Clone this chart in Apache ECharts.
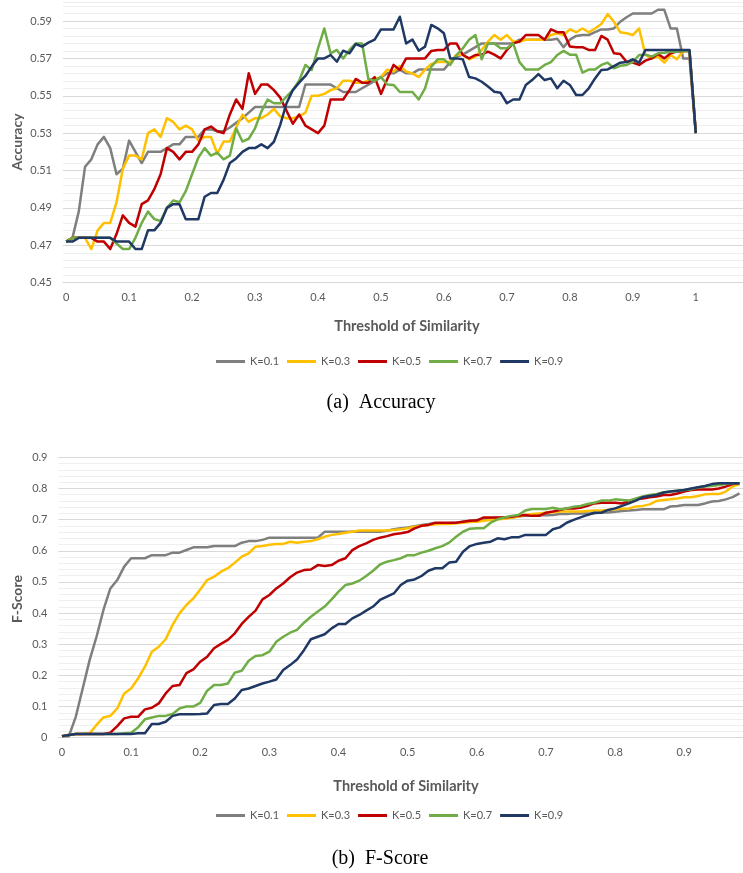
<!DOCTYPE html>
<html>
<head>
<meta charset="utf-8">
<script src="https://cdn.jsdelivr.net/npm/echarts@6/dist/echarts.min.js"></script>
<style>
html,body{margin:0;padding:0;background:#fff;}
#chart{width:743px;height:873px;}
</style>
</head>
<body>
<div id="chart"></div>
<script>
// ---------- categories (threshold of similarity) ----------
const accThresholds = Array.from({length: 108}, (_, i) => (i / 100).toFixed(2)); // 0 .. 1.07 (axis extends past 1)
const fThresholds = Array.from({length: 99}, (_, i) => (i / 100).toFixed(2));    // 0 .. 0.98

const seriesNames = ['K=0.1', 'K=0.3', 'K=0.5', 'K=0.7', 'K=0.9'];

// ---------- (a) Accuracy, thresholds 0 .. 1.00 ----------
const acc01 = [
  0.472,0.474,0.488,0.512,0.516,0.524,0.528,0.522,0.508,0.511,
  0.526,0.520,0.514,0.520,0.520,0.520,0.522,0.524,0.524,0.528,
  0.528,0.528,0.532,0.532,0.531,0.531,0.533,0.5355,0.538,0.541,
  0.544,0.544,0.544,0.544,0.544,0.544,0.544,0.544,0.556,0.556,
  0.556,0.556,0.556,0.554,0.552,0.552,0.552,0.554,0.556,0.558,
  0.560,0.562,0.562,0.564,0.562,0.562,0.564,0.564,0.564,0.564,
  0.564,0.568,0.571,0.572,0.574,0.576,0.578,0.578,0.578,0.578,
  0.578,0.578,0.580,0.580,0.580,0.580,0.580,0.580,0.5805,0.576,
  0.580,0.582,0.5825,0.5825,0.584,0.5855,0.5855,0.586,0.5896,0.592,
  0.594,0.594,0.594,0.594,0.596,0.596,0.586,0.586,0.570,0.570,
  0.530
];
const acc03 = [
  0.472,0.474,0.474,0.474,0.468,0.478,0.482,0.482,0.493,0.511,
  0.518,0.518,0.516,0.530,0.532,0.528,0.538,0.536,0.532,0.534,
  0.532,0.526,0.528,0.528,0.519,0.5255,0.5255,0.533,0.540,0.536,
  0.538,0.538,0.540,0.543,0.539,0.538,0.538,0.539,0.541,0.550,
  0.550,0.551,0.553,0.554,0.558,0.558,0.557,0.557,0.558,0.559,
  0.560,0.564,0.563,0.566,0.563,0.562,0.560,0.564,0.567,0.568,
  0.568,0.568,0.572,0.572,0.5695,0.571,0.5745,0.579,0.5825,0.580,
  0.5825,0.579,0.579,0.580,0.580,0.580,0.580,0.5825,0.5834,0.5825,
  0.5855,0.584,0.586,0.584,0.586,0.5884,0.5937,0.5896,0.584,0.5834,
  0.5825,0.586,0.5718,0.570,0.571,0.5677,0.5718,0.5695,0.574,0.574,
  0.530
];
const acc05 = [
  0.472,0.474,0.474,0.474,0.474,0.472,0.472,0.468,0.476,0.486,
  0.482,0.480,0.492,0.494,0.500,0.508,0.522,0.520,0.516,0.520,
  0.520,0.524,0.532,0.5335,0.531,0.530,0.540,0.548,0.543,0.562,
  0.551,0.556,0.556,0.553,0.549,0.542,0.535,0.540,0.534,0.532,
  0.530,0.534,0.548,0.548,0.548,0.553,0.559,0.557,0.557,0.560,
  0.551,0.559,0.5665,0.5638,0.570,0.570,0.570,0.570,0.574,0.5745,
  0.5745,0.578,0.578,0.5718,0.570,0.5718,0.572,0.5736,0.572,0.570,
  0.5745,0.578,0.579,0.5825,0.5825,0.5825,0.580,0.5855,0.584,0.584,
  0.5763,0.576,0.576,0.5745,0.5745,0.582,0.580,0.5727,0.5723,0.5682,
  0.5677,0.5665,0.5688,0.570,0.5723,0.570,0.5727,0.5736,0.574,0.574,
  0.530
];
const acc07 = [
  0.472,0.474,0.474,0.474,0.474,0.474,0.474,0.474,0.471,0.468,
  0.468,0.474,0.482,0.488,0.484,0.483,0.490,0.494,0.493,0.499,
  0.508,0.517,0.522,0.518,0.5196,0.516,0.518,0.5326,0.5255,0.527,
  0.5326,0.5415,0.548,0.546,0.546,0.5495,0.553,0.558,0.5665,0.5638,
  0.5754,0.586,0.5727,0.5745,0.570,0.5745,0.578,0.578,0.559,0.558,
  0.560,0.556,0.5558,0.552,0.552,0.552,0.548,0.554,0.5656,0.5695,
  0.5695,0.5665,0.5718,0.5754,0.580,0.5825,0.5695,0.578,0.578,0.5754,
  0.5754,0.578,0.568,0.564,0.564,0.564,0.5665,0.568,0.5718,0.574,
  0.572,0.572,0.5624,0.564,0.564,0.5665,0.5677,0.5647,0.566,0.5665,
  0.568,0.5718,0.572,0.571,0.5727,0.573,0.5736,0.5736,0.574,0.574,
  0.530
];
const acc09 = [
  0.472,0.472,0.474,0.474,0.474,0.474,0.474,0.474,0.472,0.472,
  0.472,0.468,0.468,0.478,0.478,0.482,0.490,0.492,0.492,0.484,
  0.484,0.484,0.496,0.498,0.498,0.505,0.514,0.5165,0.520,0.522,
  0.522,0.524,0.522,0.5254,0.5344,0.546,0.553,0.557,0.5606,0.5656,
  0.570,0.570,0.5718,0.5682,0.5741,0.5727,0.5777,0.5763,0.5784,0.580,
  0.5855,0.5855,0.5855,0.5923,0.578,0.580,0.5741,0.5763,0.5879,0.5861,
  0.5834,0.570,0.570,0.5695,0.560,0.5593,0.5575,0.5549,0.5522,0.5516,
  0.546,0.548,0.548,0.5558,0.5584,0.5616,0.5584,0.5593,0.554,0.558,
  0.5558,0.5504,0.5504,0.554,0.5593,0.5638,0.5641,0.5659,0.5677,0.568,
  0.5695,0.5677,0.5745,0.5745,0.5745,0.5745,0.5745,0.5745,0.5745,0.5745,
  0.530
];

// ---------- (b) F-Score, thresholds 0 .. 0.98 ----------
const f01 = [
  0.005,0.005,0.067,0.158,0.249,0.324,0.41,0.479,0.506,0.549,
  0.576,0.576,0.576,0.586,0.586,0.586,0.594,0.594,0.6025,0.611,
  0.611,0.611,0.615,0.615,0.615,0.615,0.626,0.631,0.631,0.635,
  0.642,0.642,0.642,0.642,0.642,0.642,0.642,0.642,0.661,0.661,
  0.661,0.661,0.661,0.661,0.661,0.661,0.661,0.664,0.669,0.672,
  0.675,0.679,0.683,0.686,0.688,0.688,0.688,0.69,0.693,0.696,
  0.699,0.701,0.704,0.706,0.707,0.707,0.71,0.712,0.712,0.714,
  0.714,0.715,0.718,0.718,0.72,0.72,0.72,0.72,0.723,0.723,
  0.7256,0.728,0.729,0.731,0.733,0.733,0.733,0.733,0.742,0.744,
  0.747,0.747,0.747,0.752,0.758,0.76,0.765,0.772,0.784
];
const f03 = [
  0.005,0.009,0.012,0.012,0.014,0.041,0.065,0.07,0.094,0.142,
  0.158,0.19,0.228,0.276,0.292,0.316,0.362,0.399,0.426,0.447,
  0.476,0.506,0.517,0.533,0.544,0.562,0.581,0.592,0.613,0.615,
  0.619,0.622,0.622,0.629,0.626,0.629,0.631,0.637,0.645,0.651,
  0.654,0.658,0.661,0.665,0.665,0.665,0.665,0.665,0.667,0.669,
  0.672,0.677,0.68,0.683,0.685,0.686,0.686,0.688,0.69,0.692,
  0.693,0.696,0.699,0.701,0.703,0.706,0.71,0.715,0.718,0.72,
  0.722,0.724,0.726,0.726,0.726,0.726,0.728,0.729,0.729,0.731,
  0.733,0.735,0.736,0.742,0.744,0.749,0.76,0.763,0.765,0.768,
  0.772,0.772,0.776,0.781,0.782,0.782,0.79,0.806,0.814
];
const f05 = [
  0.005,0.009,0.012,0.012,0.012,0.012,0.012,0.016,0.037,0.062,
  0.067,0.067,0.091,0.096,0.11,0.142,0.166,0.169,0.207,0.219,
  0.244,0.26,0.287,0.301,0.314,0.335,0.365,0.388,0.408,0.444,
  0.458,0.479,0.495,0.515,0.53,0.538,0.54,0.554,0.551,0.554,
  0.568,0.576,0.602,0.615,0.624,0.635,0.642,0.647,0.653,0.656,
  0.66,0.672,0.68,0.683,0.69,0.69,0.69,0.69,0.693,0.696,
  0.697,0.707,0.707,0.707,0.707,0.709,0.712,0.715,0.712,0.712,
  0.722,0.726,0.731,0.736,0.736,0.738,0.744,0.752,0.754,0.754,
  0.754,0.752,0.758,0.765,0.768,0.772,0.774,0.779,0.779,0.784,
  0.79,0.795,0.797,0.797,0.797,0.8,0.806,0.814,0.817
];
const f07 = [
  0.005,0.009,0.012,0.012,0.012,0.012,0.012,0.012,0.012,0.014,
  0.016,0.033,0.059,0.065,0.07,0.07,0.076,0.094,0.1,0.1,
  0.112,0.151,0.169,0.169,0.174,0.209,0.215,0.247,0.262,0.265,
  0.276,0.308,0.324,0.337,0.346,0.369,0.388,0.405,0.421,0.444,
  0.469,0.49,0.495,0.504,0.519,0.536,0.556,0.565,0.57,0.576,
  0.586,0.586,0.594,0.6,0.608,0.615,0.626,0.645,0.661,0.671,
  0.672,0.672,0.69,0.701,0.707,0.712,0.715,0.729,0.734,0.734,
  0.734,0.738,0.733,0.736,0.741,0.744,0.75,0.754,0.761,0.761,
  0.765,0.763,0.761,0.768,0.774,0.779,0.782,0.787,0.79,0.793,
  0.795,0.797,0.803,0.806,0.808,0.811,0.814,0.817,0.817
];
const f09 = [
  0.005,0.009,0.012,0.012,0.012,0.012,0.012,0.012,0.012,0.012,
  0.012,0.014,0.014,0.044,0.044,0.051,0.07,0.075,0.075,0.075,
  0.076,0.078,0.105,0.108,0.108,0.126,0.153,0.158,0.166,0.174,
  0.18,0.187,0.217,0.233,0.251,0.281,0.316,0.324,0.332,0.351,
  0.365,0.365,0.383,0.394,0.408,0.421,0.442,0.453,0.463,0.49,
  0.504,0.508,0.519,0.536,0.544,0.544,0.562,0.565,0.597,0.615,
  0.622,0.626,0.629,0.64,0.637,0.643,0.643,0.651,0.651,0.651,
  0.651,0.669,0.675,0.69,0.699,0.707,0.715,0.722,0.722,0.731,
  0.736,0.744,0.752,0.761,0.772,0.776,0.779,0.787,0.79,0.793,
  0.795,0.8,0.804,0.808,0.814,0.817,0.817,0.817,0.817
];

// ---------- styling ----------
const colors = ['#7F7F7F', '#FFC000', '#C00000', '#70AD47', '#1F3864'];
const FONT = 'Lato';
const TXT = '#595959';
const MAJOR = '#D9D9D9';
const MINOR = '#EFEFEF';

const accSeries = [acc01, acc03, acc05, acc07, acc09];
const fSeries = [f01, f03, f05, f07, f09];

function xAxisFor(gridIndex, cats) {
  return {
    gridIndex: gridIndex, type: 'category', data: cats, boundaryGap: true,
    axisTick: {show: false},
    axisLine: {lineStyle: {color: MAJOR, width: 1}},
    axisLabel: {interval: 9, color: TXT, fontSize: 11, fontFamily: FONT, margin: 9,
      formatter: v => String(parseFloat(v))},
    splitLine: {show: false}
  };
}
function yAxisFor(gridIndex, min, max, minorStep, majorStep, fmt) {
  return {
    gridIndex: gridIndex, type: 'value', min: min, max: max, interval: minorStep,
    axisLine: {show: false}, axisTick: {show: false},
    axisLabel: {color: TXT, fontSize: 11, fontFamily: FONT, margin: 11, showMaxLabel: true,
      formatter: function (v) {
        const k = (v - min) / majorStep;
        if (Math.abs(k - Math.round(k)) < 1e-6 && v <= max + 1e-9) return fmt(v);
        return '';
      }},
    splitLine: {show: true, lineStyle: {width: 1, color: [MAJOR, MINOR, MINOR, MINOR, MINOR]}}
  };
}

const series = [];
accSeries.forEach((d, i) => series.push({
  name: seriesNames[i], type: 'line', xAxisIndex: 0, yAxisIndex: 0, data: d,
  showSymbol: false, symbol: 'none', animation: false, clip: true,
  lineStyle: {width: 2.5, color: colors[i], join: 'round'}, itemStyle: {color: colors[i]}
}));
fSeries.forEach((d, i) => series.push({
  name: seriesNames[i], type: 'line', xAxisIndex: 1, yAxisIndex: 1, data: d,
  showSymbol: false, symbol: 'none', animation: false, clip: true,
  lineStyle: {width: 2.5, color: colors[i], join: 'round'}, itemStyle: {color: colors[i]}
}));

function legendAt(top) {
  return {
    top: top, left: 211, orient: 'horizontal', icon: 'rect',
    itemWidth: 29, itemHeight: 3, itemGap: 8, selectedMode: false,
    textStyle: {color: TXT, fontSize: 11, fontFamily: FONT},
    data: seriesNames
  };
}
function label(x, y, text, size, weight, family, color, rot) {
  return {
    type: 'text', x: x, y: y, rotation: rot || 0, silent: true,
    style: {text: text, fontSize: size, fontWeight: weight, fontFamily: family, fill: color,
      align: 'center', verticalAlign: 'middle', textAlign: 'center', textVerticalAlign: 'middle'}
  };
}

const option = {
  backgroundColor: '#ffffff',
  animation: false,
  color: colors,
  grid: [
    {left: 63, right: 0, top: 2.3, height: 280.4},
    {left: 58.5, right: 0, top: 457.3, height: 280.4}
  ],
  xAxis: [xAxisFor(0, accThresholds), xAxisFor(1, fThresholds)],
  yAxis: [
    yAxisFor(0, 0.45, 0.6, 0.004, 0.02, v => v.toFixed(2)),
    yAxisFor(1, 0, 0.9, 0.02, 0.1, v => String(Math.round(v * 10) / 10))
  ],
  legend: [legendAt(351), legendAt(805)],
  graphic: [
    label(17, 142, 'Accuracy', 14, 'bold', FONT, TXT, Math.PI / 2),
    label(407, 326, 'Threshold of Similarity', 14.5, 'bold', FONT, TXT),
    label(381, 403, '(a)  Accuracy', 20, 'normal', 'Liberation Serif', '#000000'),
    label(17, 599, 'F-Score', 14, 'bold', FONT, TXT, Math.PI / 2),
    label(406, 786, 'Threshold of Similarity', 14.5, 'bold', FONT, TXT),
    label(380, 859, '(b)  F-Score', 20, 'normal', 'Liberation Serif', '#000000')
  ],
  series: series
};

const chart = echarts.init(document.getElementById('chart'), null, {renderer: 'canvas'});
chart.setOption(option);
</script>
</body>
</html>
